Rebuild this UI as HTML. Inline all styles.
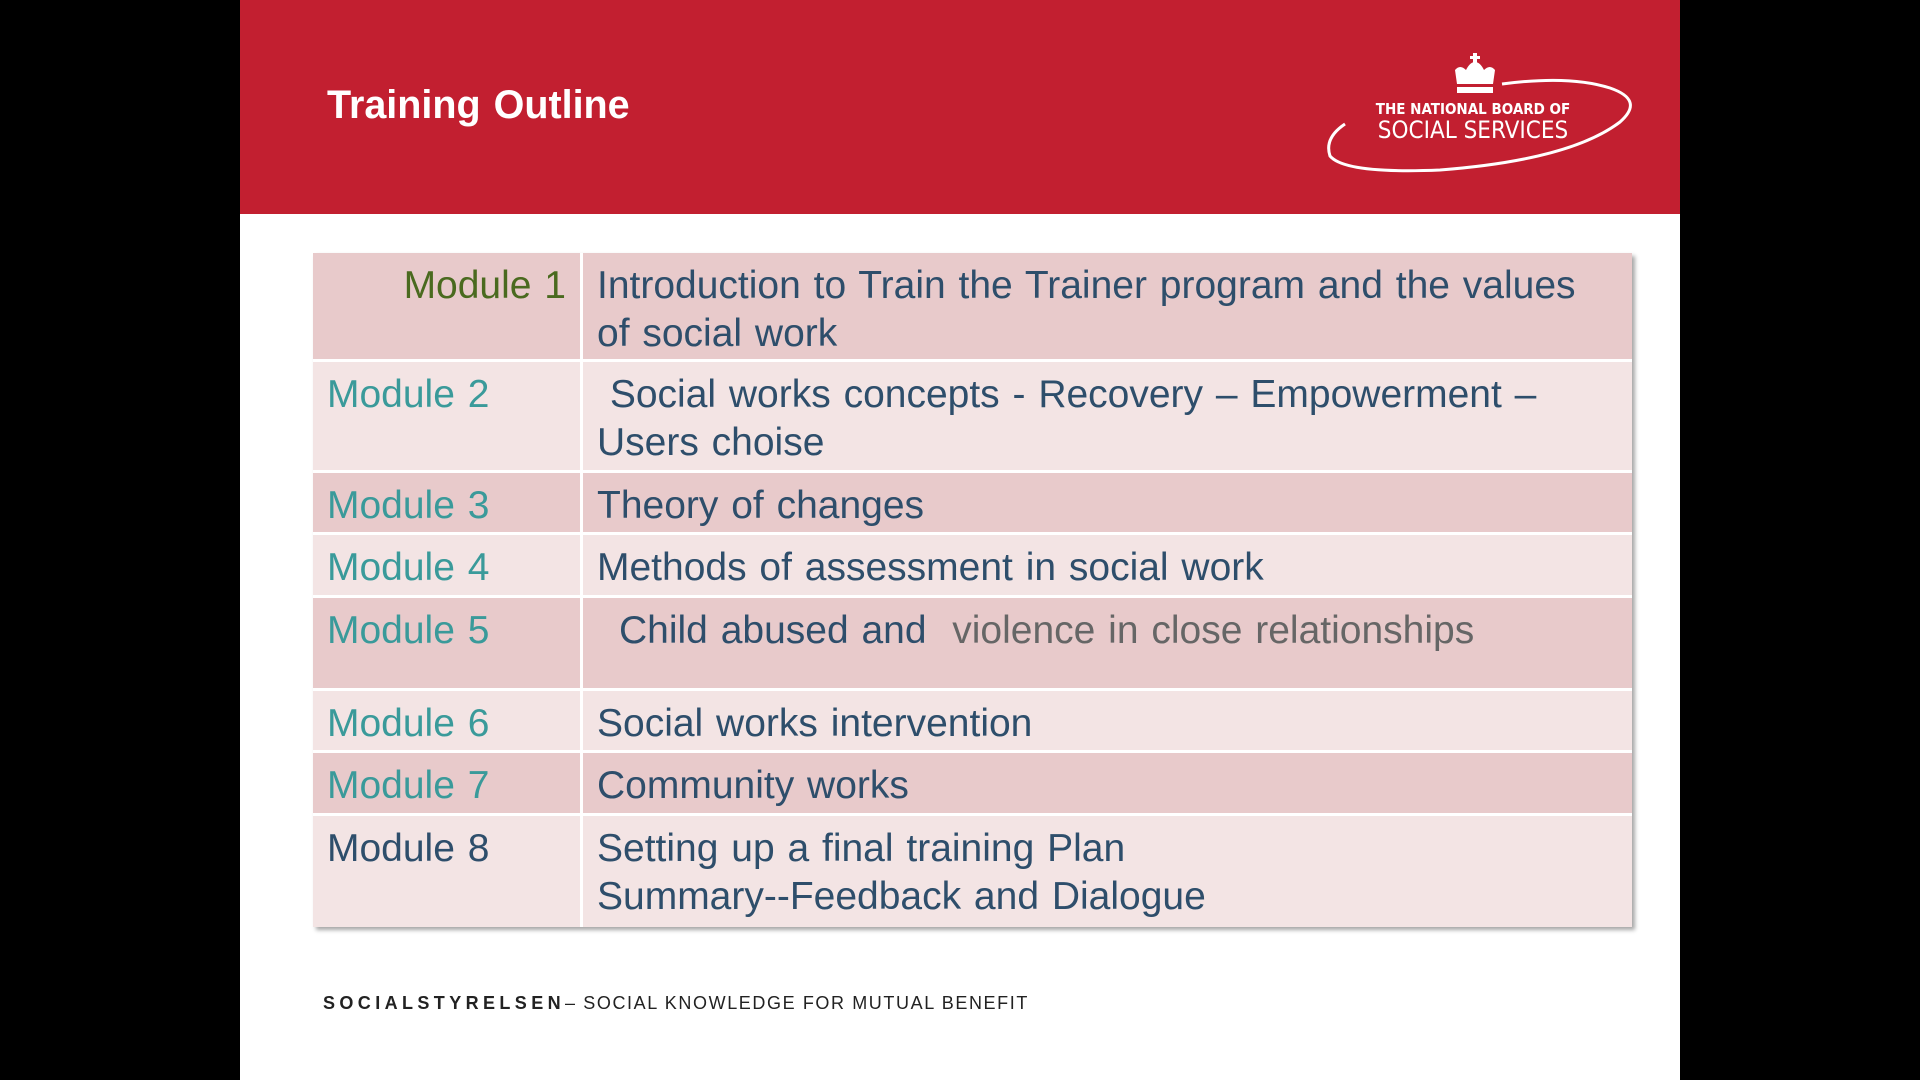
<!DOCTYPE html>
<html><head><meta charset="utf-8"><style>
body{margin:0;width:1920px;height:1080px;background:#000;position:relative;overflow:hidden;font-family:"Liberation Sans",sans-serif}
.slide{position:absolute;left:240px;top:0;width:1440px;height:1080px;background:#fff}
.hdr{position:absolute;left:0;top:0;width:1440px;height:214px;background:#c21f30}
.title{position:absolute;left:87px;top:83px;color:#fff;font-size:39.5px;font-weight:bold;word-spacing:2px}
.tbl{position:absolute;left:73px;top:253px;width:1319px;height:674px;box-shadow:3px 3px 4px rgba(0,0,0,.35);background:#fff}
.c{position:absolute;box-sizing:border-box;font-size:39px;line-height:48px;color:#2e4e6b;padding-top:9px;white-space:nowrap;word-spacing:2px}
.k{left:0;width:267px;padding-left:14px}
.v{left:270px;width:1049px;padding-left:14px}
.d{background:#e8cacb}.l{background:#f3e4e4}
.teal{color:#3a9a9a}
.foot{position:absolute;left:83px;top:993px;font-size:18px;color:#222;letter-spacing:1.6px}
.foot b{font-weight:bold;letter-spacing:4.4px}
</style></head><body>
<div class="slide">
<div class="hdr">
<div class="title">Training Outline</div>
<svg style="position:absolute;left:1080px;top:50px" width="340" height="130">
<path d="M25 74 Q4 88 10 106 Q25 124 120 120 Q250 110 300 72 Q325 50 290 38 Q250 25 182 34" fill="none" stroke="#fff" stroke-width="3"/>
<path d="M137 34 L135 20 Q140 14 146 20 Q150 12 155 12 Q160 12 164 20 Q170 14 175 20 L173 34 Z" fill="#fff"/>
<rect x="137" y="37" width="36" height="6" fill="#fff"/>
<rect x="153" y="3" width="4" height="10" fill="#fff"/><rect x="150" y="6" width="10" height="3" fill="#fff"/>
<text x="153" y="64" text-anchor="middle" fill="#fff" font-size="15" font-weight="bold" font-family="DejaVu Sans Condensed, Liberation Sans, sans-serif">THE NATIONAL BOARD OF</text>
<text x="153" y="88" text-anchor="middle" fill="#fff" font-size="24" font-family="DejaVu Sans Condensed, Liberation Sans, sans-serif">SOCIAL SERVICES</text>
</svg>
</div>
<div class="tbl">
<div class="c k d" style="top:0;height:106px;text-align:right;padding-right:14px;color:#4a6a1f">Module 1</div>
<div class="c v d" style="top:0;height:106px">Introduction to Train the Trainer program and the values<br>of social work</div>
<div class="c k l teal" style="top:109px;height:108px">Module 2</div>
<div class="c v l" style="top:109px;height:108px">&nbsp;Social works concepts - Recovery – Empowerment –<br>Users choise</div>
<div class="c k d teal" style="top:220px;height:59px">Module 3</div>
<div class="c v d" style="top:220px;height:59px">Theory of changes</div>
<div class="c k l teal" style="top:282px;height:60px">Module 4</div>
<div class="c v l" style="top:282px;height:60px">Methods of assessment in social work</div>
<div class="c k d teal" style="top:345px;height:90px">Module 5</div>
<div class="c v d" style="top:345px;height:90px;padding-left:36px">Child abused and &nbsp;<span style="color:#666">violence in close relationships</span></div>
<div class="c k l teal" style="top:438px;height:59px">Module 6</div>
<div class="c v l" style="top:438px;height:59px">Social works intervention</div>
<div class="c k d teal" style="top:500px;height:60px">Module 7</div>
<div class="c v d" style="top:500px;height:60px">Community works</div>
<div class="c k l" style="top:563px;height:111px">Module 8</div>
<div class="c v l" style="top:563px;height:111px">Setting up a final training Plan<br>Summary--Feedback and Dialogue</div>
</div>
<div class="foot"><b>SOCIALSTYRELSEN</b>– SOCIAL KNOWLEDGE FOR MUTUAL BENEFIT</div>
</div>
</body></html>
